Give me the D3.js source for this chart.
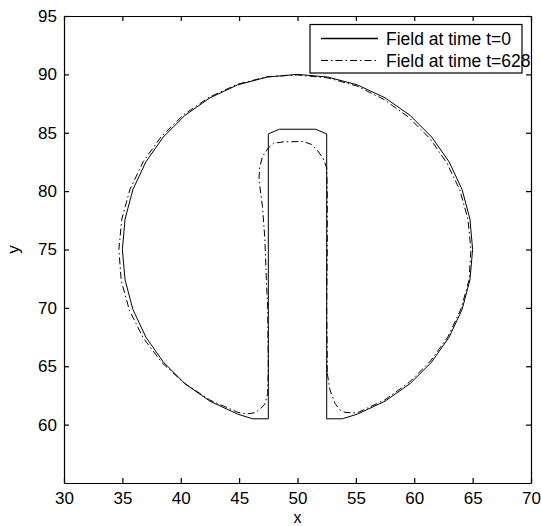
<!DOCTYPE html>
<html>
<head>
<meta charset="utf-8">
<script src="https://cdn.jsdelivr.net/npm/d3@7"></script>
<style>
body { margin: 0; background: #fff; }
svg { font-family: "Liberation Sans", Arial, sans-serif; }
</style>
</head>
<body>
<svg id="chart" width="541" height="526"></svg>
<script>
// tick values
var xTicks = [30, 35, 40, 45, 50, 55, 60, 65, 70];
var yTicks = [60, 65, 70, 75, 80, 85, 90, 95];

// legend labels
var seriesNames = ["Field at time t=0", "Field at time t=628"];

// contour at t=0 (slotted disk)
var field0 = [
	[52.5, 60.5], [53.84, 60.5], [55.13, 60.9], [57.5, 62.01], [59.64, 63.51],
	[61.49, 65.36], [62.99, 67.5], [64.1, 69.87], [64.77, 72.4], [65, 75],
	[64.77, 77.6], [64.1, 80.13], [62.99, 82.5], [61.49, 84.64], [59.64, 86.49],
	[57.5, 87.99], [55.13, 89.1], [52.6, 89.77], [50, 90], [47.4, 89.77],
	[44.87, 89.1], [42.5, 87.99], [40.36, 86.49], [38.51, 84.64], [37.01, 82.5],
	[35.9, 80.13], [35.23, 77.6], [35, 75], [35.23, 72.4], [35.9, 69.87],
	[37.01, 67.5], [38.51, 65.36], [40.36, 63.51], [42.5, 62.01], [44.87, 60.9],
	[46.16, 60.5], [47.5, 60.5], [47.5, 84.9], [48.45, 85.3], [51.55, 85.3],
	[52.5, 84.9], [52.5, 60.5]
];

// contour at t=628
var field628 = [
	[52.55, 64.4], [52.78, 62.97], [53.2, 61.83], [53.64, 61.25], [54.07, 61.05],
	[55.1, 61.0], [57.45, 62.1], [59.55, 63.6], [61.4, 65.45], [62.9, 67.55],
	[64.0, 69.9], [64.7, 72.4], [64.85, 75], [64.6, 77.6], [63.9, 80.1],
	[62.8, 82.4], [61.35, 84.5], [59.5, 86.35], [57.4, 87.85], [55.1, 89.0],
	[52.6, 89.7], [50, 89.95], [47.4, 89.8], [44.85, 89.15], [42.45, 88.05],
	[40.25, 86.55], [38.35, 84.7], [36.8, 82.55], [35.65, 80.15], [34.95, 77.6],
	[34.7, 75], [34.9, 72.35], [35.6, 69.8], [36.8, 67.4], [38.4, 65.3],
	[40.3, 63.55], [42.5, 62.1], [44.9, 61.05], [45.65, 60.91], [46.36, 61.02],
	[46.8, 61.34], [47.2, 61.74], [47.45, 62.7], [47.5, 65], [47.45, 70],
	[47.35, 72], [47.2, 76], [47.0, 78.67], [46.85, 79.8], [46.7, 81],
	[46.75, 82], [47.0, 82.95], [47.5, 83.7], [47.95, 84.1], [48.8, 84.22],
	[50.5, 84.25], [51.2, 84.0], [51.7, 83.5], [52.2, 82.8], [52.5, 82.0],
	[52.55, 80], [52.55, 75], [52.5, 70], [52.55, 66], [52.55, 64.4]
];

function renderChart() {
	var svg = d3.select("#chart"),
		margin = {left: 64, right: 10, top: 16, bottom: 43},
		width = +svg.attr("width"),
		height = +svg.attr("height");

	var x = d3.scaleLinear().domain([30, 70]).range([margin.left, width - margin.right]);
	var y = d3.scaleLinear().domain([55, 95]).range([height - margin.bottom, margin.top]);

	var g = svg.append("g");

	var line = d3.line()
		.x(function(d) { return x(d[0]); })
		.y(function(d) { return y(d[1]); });

	g.append("path").attr("d", line(field0))
		.attr("fill", "none").attr("stroke", "#000").attr("stroke-width", 1);
	g.append("path").attr("d", line(field628))
		.attr("fill", "none").attr("stroke", "#000").attr("stroke-width", 1)
		.attr("stroke-dasharray", "7,3,1.5,3");

	// axes, ticks pointing inward on all four sides
	var xb = svg.append("g").attr("transform", "translate(0," + y(55) + ")")
		.call(d3.axisBottom(x).tickValues(xTicks).tickSizeInner(-5).tickSizeOuter(0).tickPadding(9));
	var xt = svg.append("g").attr("transform", "translate(0," + y(95) + ")")
		.call(d3.axisTop(x).tickValues(xTicks).tickSizeInner(-5).tickSizeOuter(0).tickFormat(""));
	var yl = svg.append("g").attr("transform", "translate(" + x(30) + ",0)")
		.call(d3.axisLeft(y).tickValues(yTicks).tickSizeInner(-5).tickSizeOuter(0).tickPadding(7));
	var yr = svg.append("g").attr("transform", "translate(" + x(70) + ",0)")
		.call(d3.axisRight(y).tickValues(yTicks).tickSizeInner(-5).tickSizeOuter(0).tickFormat(""));

	[xb, xt, yl, yr].forEach(function(a) {
		a.selectAll("path, line").attr("stroke", "#000").attr("stroke-width", 1.2);
		a.selectAll("text").attr("fill", "#000").style("font-size", "17px")
			.style("font-family", "'Liberation Sans', Arial, sans-serif");
	});

	svg.append("text").attr("x", x(50)).attr("y", 522.5)
		.attr("text-anchor", "middle").style("font-size", "16px").text("x");
	svg.append("text").attr("transform", "translate(19," + y(75) + ") rotate(-90)")
		.attr("text-anchor", "middle").style("font-size", "17px").text("y");

	// legend
	var lg = svg.append("g");
	lg.append("rect").attr("x", 310).attr("y", 24.5).attr("width", 212).attr("height", 48.5)
		.attr("fill", "#fff").attr("stroke", "#000").attr("stroke-width", 1.2);
	var rows = [{dash: null, y: 38.5}, {dash: "7,3,1.5,3", y: 60.5}];
	rows.forEach(function(r, i) {
		lg.append("line").attr("x1", 321).attr("x2", 378).attr("y1", r.y).attr("y2", r.y)
			.attr("stroke", "#000").attr("stroke-width", i == 0 ? 1.6 : 1)
			.attr("stroke-dasharray", r.dash);
		lg.append("text").attr("x", 386).attr("y", r.y + 6)
			.style("font-size", "17.5px").text(seriesNames[i]);
	});
}

renderChart();
</script>
</body>
</html>
